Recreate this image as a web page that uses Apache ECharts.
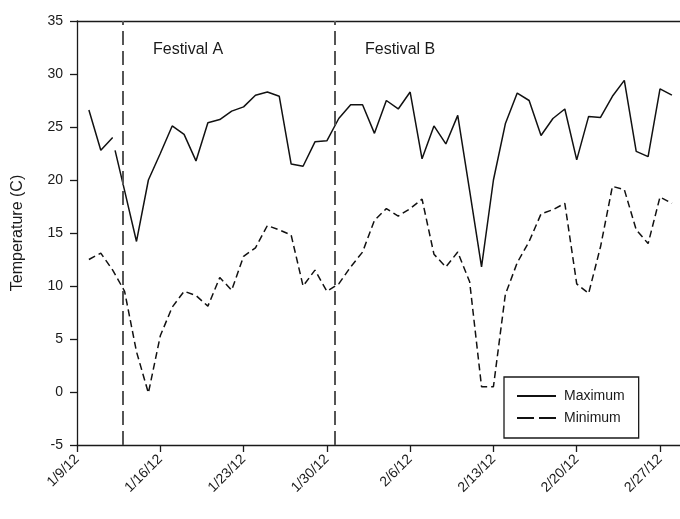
<!DOCTYPE html>
<html>
<head>
<meta charset="utf-8">
<script src="https://cdn.jsdelivr.net/npm/echarts@6/dist/echarts.min.js"></script>
<style>
  html, body { margin: 0; padding: 0; background: #fff; }
  #chart { width: 680px; height: 519px; }
</style>
</head>
<body>
<div id="chart"></div>
<script>
// Daily temperatures, x = days after 1/9/12
const startDate = new Date(2012, 0, 9);

// Maximum: a short break in the record after 1/12
const maxDays = [1, 2, 3, 3, 3.2, 4, 5, 6, 7, 8, 9, 10, 11, 12, 13, 14, 15, 16, 17, 18, 19, 20,
  21, 22, 23, 24, 25, 26, 27, 28, 29, 30, 31, 32, 33, 34, 35, 36, 37, 38, 39, 40,
  41, 42, 43, 44, 45, 46, 47, 48, 49, 50];
const maxTemps = [26.6, 22.8, 24.0, null, 22.8, 19.0, 14.2, 20.0, 22.5, 25.1, 24.3, 21.8, 25.4, 25.7,
  26.5, 26.9, 28.0, 28.3, 27.9, 21.5, 21.3, 23.6, 23.7, 25.8, 27.1, 27.1, 24.4, 27.5,
  26.7, 28.3, 22.0, 25.1, 23.4, 26.1, 19.0, 11.8, 20.0, 25.3, 28.2, 27.5, 24.2, 25.8,
  26.7, 21.9, 26.0, 25.9, 27.9, 29.4, 22.7, 22.2, 28.6, 28.0];

const minDays = [1, 2, 3, 4, 5, 6, 7, 8, 9, 10, 11, 12, 13, 14, 15, 16, 17, 18, 19, 20,
  21, 22, 23, 24, 25, 26, 27, 28, 29, 30, 31, 32, 33, 34, 35, 36, 37, 38, 39, 40,
  41, 42, 43, 44, 45, 46, 47, 48, 49, 50];
const minTemps = [12.5, 13.1, 11.5, 9.5, 3.8, -0.1, 5.3, 8.0, 9.5, 9.1, 8.1, 10.8, 9.6, 12.8,
  13.6, 15.7, 15.3, 14.8, 10.0, 11.5, 9.5, 10.2, 11.8, 13.2, 16.2, 17.3, 16.6, 17.3,
  18.2, 13.0, 11.8, 13.2, 10.4, 0.5, 0.5, 9.2, 12.2, 14.2, 16.8, 17.2, 17.8, 10.2,
  9.3, 13.7, 19.4, 19.1, 15.3, 14.0, 18.4, 17.8];

// Festival start days
const festivalDays = [3.85, 21.65];
const festivalNames = ['Festival A', 'Festival B'];

const seriesNames = ['Maximum', 'Minimum'];
const yTicks = { min: -5, max: 35, step: 5 };
const xTicks = { min: 0, max: 50.68, step: 7 };

function pairs(xs, ys) {
  return xs.map((x, i) => [x, ys[i]]);
}
function dateLabel(v) {
  if (Math.abs(v % 7) > 1e-6) return '';
  const d = new Date(startDate.getTime());
  d.setDate(d.getDate() + Math.round(v));
  return (d.getMonth() + 1) + '/' + d.getDate() + '/' + String(d.getFullYear()).slice(2);
}

const font = 'Liberation Sans, Arial, sans-serif';
const ink = '#1a1a1a';
const chart = echarts.init(document.getElementById('chart'));

chart.setOption({
  animation: false,
  backgroundColor: '#ffffff',
  textStyle: { fontFamily: font },
  grid: { left: 77, top: 21, right: 0, bottom: 74 },
  xAxis: [{
    type: 'value',
    min: xTicks.min, max: xTicks.max, interval: xTicks.step,
    axisLine: { show: true, onZero: false, lineStyle: { color: ink, width: 1.3 } },
    axisTick: { show: true, length: 7, lineStyle: { color: ink, width: 1.3 } },
    splitLine: { show: false },
    axisLabel: {
      rotate: 45, margin: 12, fontSize: 14, color: ink, fontFamily: font,
      formatter: dateLabel, showMaxLabel: false
    }
  }, {
    type: 'value', position: 'top',
    min: xTicks.min, max: xTicks.max,
    axisLine: { show: true, onZero: false, lineStyle: { color: ink, width: 1.3 } },
    axisTick: { show: false }, axisLabel: { show: false }, splitLine: { show: false }
  }],
  yAxis: {
    type: 'value',
    min: yTicks.min, max: yTicks.max, interval: yTicks.step,
    name: 'Temperature (C)',
    nameLocation: 'middle', nameGap: 51, nameRotate: 90,
    nameTextStyle: { fontSize: 16, color: ink, fontFamily: font },
    axisLine: { show: true, onZero: false, lineStyle: { color: ink, width: 1.3 } },
    axisTick: { show: true, length: 7, lineStyle: { color: ink, width: 1.3 } },
    splitLine: { show: false },
    axisLabel: { margin: 14, fontSize: 14, color: ink, fontFamily: font }
  },
  legend: {
    left: 504, top: 377,
    orient: 'vertical',
    data: [
      { name: seriesNames[0] },
      { name: seriesNames[1], lineStyle: { type: [17, 5] } }
    ],
    itemWidth: 39, itemHeight: 14, itemGap: 8,
    itemStyle: { opacity: 0 },
    padding: [12, 14, 13, 12],
    borderColor: ink, borderWidth: 1.3,
    backgroundColor: '#fff',
    textStyle: { fontSize: 14, color: ink, fontFamily: font, padding: [0, 0, 0, 3] }
  },
  graphic: festivalNames.map((name, i) => ({
    type: 'text',
    left: i === 0 ? 153 : 365,
    top: 42,
    style: { text: name, font: '16px ' + font, fill: ink }
  })),
  series: [{
    name: seriesNames[0],
    type: 'line',
    data: pairs(maxDays, maxTemps),
    connectNulls: false,
    showSymbol: false, symbol: 'none',
    lineStyle: { color: '#111', width: 1.5, type: 'solid' },
    itemStyle: { color: '#111' },
    markLine: {
      silent: true, symbol: 'none',
      label: { show: false },
      lineStyle: { color: '#555', width: 2, type: [14, 6] },
      data: festivalDays.map(d => ({ xAxis: d }))
    },
    z: 3
  }, {
    name: seriesNames[1],
    type: 'line',
    data: pairs(minDays, minTemps),
    showSymbol: false, symbol: 'none',
    lineStyle: { color: '#111', width: 1.5, type: [7, 4] },
    itemStyle: { color: '#111' },
    z: 3
  }]
});
</script>
</body>
</html>
